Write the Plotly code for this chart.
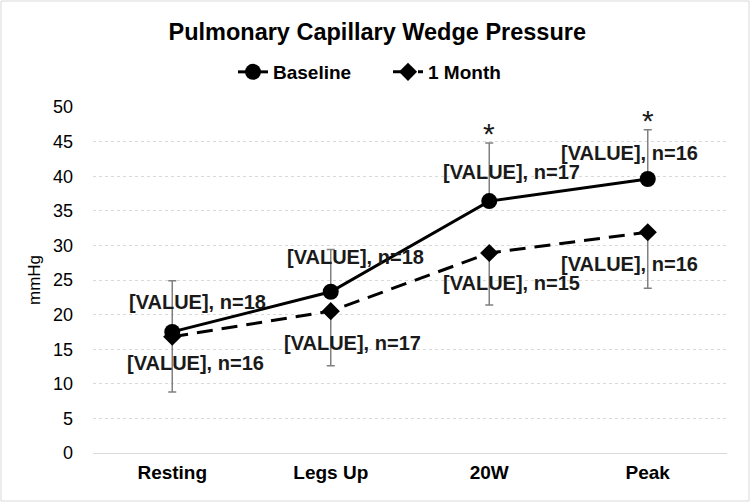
import plotly.graph_objects as go

categories = ["Resting", "Legs Up", "20W", "Peak"]
baseline = [17.5, 23.3, 36.4, 39.6]
baseline_err = [7.4, 6.1, 8.4, 7.1]
baseline_n = [18, 18, 17, 16]
month1 = [16.8, 20.5, 28.9, 31.9]
month1_err = [8.0, 7.9, 7.5, 8.1]
month1_n = [16, 17, 15, 16]
significant = [False, False, True, True]
y_ticks = [0, 5, 10, 15, 20, 25, 30, 35, 40, 45, 50]

# label offsets (pixels) - style only
base_off = [(25, 30), (25, 35), (22, 29), (-18, 26)]
month_off = [(23, -26), (22, -32), (22, -30), (-18, -32)]

FONT = "Liberation Sans, Arial, sans-serif"
GRAY = "#808080"
TXT = "#1a1a1a"

fig = go.Figure()
fig.add_trace(go.Scatter(
    x=categories, y=baseline, name="<b>Baseline</b>", mode="lines+markers",
    line=dict(color="black", width=3),
    marker=dict(symbol="circle", size=16, color="black"),
    error_y=dict(type="data", symmetric=False, array=baseline_err,
                 arrayminus=[0] * len(baseline), color=GRAY, thickness=1.5, width=4),
))
fig.add_trace(go.Scatter(
    x=categories, y=month1, name="<b>1 Month</b>", mode="lines+markers",
    line=dict(color="black", width=3, dash="16px,9px"),
    marker=dict(symbol="diamond", size=14, color="black"),
    error_y=dict(type="data", symmetric=False, array=[0] * len(month1),
                 arrayminus=month1_err, color=GRAY, thickness=1.5, width=4),
))

ann = []
for i, c in enumerate(categories):
    ann.append(dict(x=c, y=baseline[i], text=f"<b>[VALUE], n={baseline_n[i]}</b>",
                    showarrow=False, xshift=base_off[i][0], yshift=base_off[i][1],
                    font=dict(family=FONT, size=20, color=TXT)))
    ann.append(dict(x=c, y=month1[i], text=f"<b>[VALUE], n={month1_n[i]}</b>",
                    showarrow=False, xshift=month_off[i][0], yshift=month_off[i][1],
                    font=dict(family=FONT, size=20, color=TXT)))
    if significant[i]:
        ann.append(dict(x=c, y=baseline[i] + baseline_err[i], text="*",
                        showarrow=False, yshift=9, yanchor="middle",
                        font=dict(family=FONT, size=30, color=TXT)))

# chart-area border
L, R, T, B = 93, 23, 107, 49
W, H = 750, 502
pw, ph = W - L - R, H - T - B
shapes = [dict(type="rect", xref="paper", yref="paper",
               x0=-(L - 1) / pw, x1=1 + (R - 1) / pw,
               y0=-(B - 1) / ph, y1=1 + (T - 1) / ph,
               line=dict(color="#d9d9d9", width=1), layer="below")]

fig.update_layout(
    width=W, height=H,
    margin=dict(l=L, r=R, t=T, b=B),
    paper_bgcolor="white", plot_bgcolor="white",
    font=dict(family=FONT, color="black"),
    title=dict(text="<b>Pulmonary Capillary Wedge Pressure</b>", x=0.503, xref="container",
               xanchor="center", y=1 - 32 / H, yanchor="middle",
               font=dict(size=23.5, color="black")),
    legend=dict(orientation="h", x=(W / 2 + 13 - L) / pw, xanchor="center", y=1 + 35 / ph,
                yanchor="middle", font=dict(size=19, color="black"),
                entrywidth=110, entrywidthmode="pixels", traceorder="normal"),
    annotations=ann,
    shapes=shapes,
    showlegend=True,
)
fig.update_xaxes(range=[-0.5, 3.5], showgrid=False, showline=True,
                 linecolor="#d9d9d9", linewidth=1,
                 tickfont=dict(size=19, color="black", family=FONT),
                 tickprefix="<b>", ticksuffix="</b>",
                 ticks="", ticklabelstandoff=2, zeroline=False)
fig.update_yaxes(range=[0, 50], tickvals=y_ticks, showgrid=True,
                 gridcolor="#d9d9d9", griddash="dot", gridwidth=1,
                 zeroline=False, showline=False,
                 tickfont=dict(size=18, color="black", family=FONT),
                 tickprefix="<b>", ticksuffix="</b>",
                 ticklabelstandoff=19,
                 title=dict(text="mmHg", font=dict(size=17, color="black"), standoff=8))

fig.write_html("out.html", config={"displayModeBar": False},
               post_script="document.body.style.margin='0';document.body.style.overflow='hidden';")
